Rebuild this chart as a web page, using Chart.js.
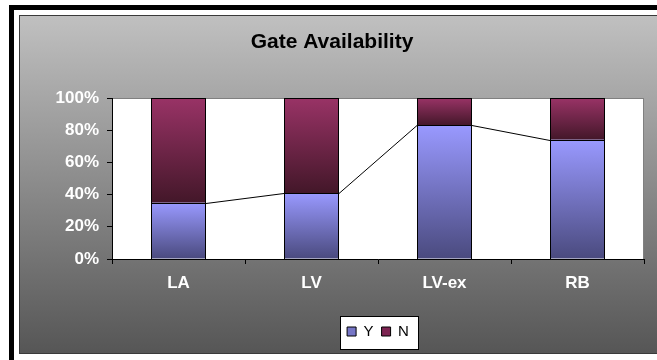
<!DOCTYPE html>
<html>
<head>
<meta charset="utf-8">
<script src="https://cdn.jsdelivr.net/npm/chart.js@4/dist/chart.umd.min.js"></script>
<style>
  html, body { margin: 0; padding: 0; background: #ffffff; overflow: hidden; width: 657px; height: 360px; }
  #frame { position: absolute; left: 9px; top: 5px; width: 700px; height: 400px; border: 5px solid #000; box-sizing: border-box; }
  #panel { position: absolute; left: 19px; top: 15px; width: 660px; height: 337px; border: 1px solid #3a3a3a;
           background: linear-gradient(to bottom, #c0c0c0 0%, #565656 100%); }
  #panel canvas { display: block; }
</style>
</head>
<body>
<div id="frame"></div>
<div id="panel"><canvas id="chart" width="637" height="337"></canvas></div>
<script>
// Gate availability share per terminal (percent of gates)
const categories = ['LA', 'LV', 'LV-ex', 'RB'];
const yesShare = [35, 41, 83, 74];
const noShare = [65, 59, 17, 26];
const tickValues = [0, 20, 40, 60, 80, 100];

const series = [
  { label: 'Y', data: yesShare, top: '#9999ff', bottom: '#4a4a7e', swatch: '#7676c6' },
  { label: 'N', data: noShare, top: '#993366', bottom: '#431729', swatch: '#7d2452' }
];

// Each stacked segment gets its own vertical gradient, from its top to its bottom edge
function segmentFill(c) {
  const s = series[c.datasetIndex];
  if (c.type !== 'data' || !c.chart.chartArea) return s.swatch;
  const yScale = c.chart.scales.y;
  let start = 0;
  for (let d = 0; d < c.datasetIndex; d++) start += series[d].data[c.dataIndex];
  const end = start + s.data[c.dataIndex];
  const y0 = yScale.getPixelForValue(end);
  const y1 = yScale.getPixelForValue(start);
  const g = c.chart.ctx.createLinearGradient(0, y0, 0, y1);
  g.addColorStop(0, s.top);
  g.addColorStop(1, s.bottom);
  return g;
}

// White plot area with grey frame, plus white boxed legend
const plotBackdrop = {
  id: 'plotBackdrop',
  afterLayout(chart) {
    const a = chart.chartArea, lg = chart.legend;
    lg.left = a.left; lg.right = a.right; lg.width = a.right - a.left;
  },
  beforeDraw(chart) {
    const { ctx, chartArea: a } = chart;
    ctx.save();
    ctx.fillStyle = '#ffffff';
    ctx.fillRect(a.left, a.top, a.right - a.left, a.bottom - a.top);
    ctx.strokeStyle = '#808080';
    ctx.lineWidth = 1;
    ctx.strokeRect(a.left + 0.5, a.top + 0.5, a.right - a.left - 1, a.bottom - a.top);
    const boxes = chart.legend.legendHitBoxes;
    if (boxes && boxes.length) {
      const l = Math.min(...boxes.map(b => b.left)) - 7;
      const r = Math.max(...boxes.map(b => b.left + b.width)) + 9;
      const cy = boxes[0].top + boxes[0].height / 2 + 1;
      ctx.fillStyle = '#ffffff';
      ctx.fillRect(Math.round(l) + 0.5, Math.round(cy - 16.5) + 0.5, Math.round(r - l), 33);
      ctx.strokeStyle = '#000000';
      ctx.strokeRect(Math.round(l) + 0.5, Math.round(cy - 16.5) + 0.5, Math.round(r - l), 33);
    }
    ctx.restore();
  }
};

// Crisp black outlines on every segment, and series lines joining the
// tops of the Y segments between neighbouring bars
const barOutlines = {
  id: 'barOutlines',
  afterDatasetsDraw(chart) {
    const ctx = chart.ctx;
    ctx.save();
    ctx.strokeStyle = '#000000';
    ctx.lineWidth = 1;
    chart.data.datasets.forEach((ds, di) => {
      chart.getDatasetMeta(di).data.forEach(el => {
        const l = Math.round(el.x - el.width / 2);
        const r = Math.round(el.x + el.width / 2) - 1;
        const t = Math.round(Math.min(el.y, el.base));
        const b = Math.round(Math.max(el.y, el.base));
        ctx.strokeRect(l + 0.5, t + 0.5, r - l, b - t);
      });
    });
    const bars = chart.getDatasetMeta(0).data;
    ctx.beginPath();
    for (let i = 0; i < bars.length - 1; i++) {
      const a = bars[i], b = bars[i + 1];
      ctx.moveTo(Math.round(a.x + a.width / 2), Math.round(a.y) + 0.5);
      ctx.lineTo(Math.round(b.x - b.width / 2), Math.round(b.y) + 0.5);
    }
    ctx.stroke();
    ctx.restore();
  }
};

new Chart(document.getElementById('chart'), {
  type: 'bar',
  data: {
    labels: categories,
    datasets: series.map(s => ({
      label: s.label,
      data: s.data,
      backgroundColor: segmentFill,
      borderColor: '#000000',
      borderWidth: 0,
      inflateAmount: 0,
      barThickness: 55
    }))
  },
  options: {
    responsive: false,
    animation: false,
    events: [],
    layout: { padding: { left: 0, right: 13, top: 0, bottom: 4 } },
    plugins: {
      title: {
        display: true,
        text: 'Gate Availability',
        color: '#000000',
        font: { family: 'Liberation Sans, Arial, sans-serif', size: 21, weight: 'bold' },
        padding: { top: 14, bottom: 42.8 }
      },
      legend: {
        position: 'bottom',
        labels: {
          color: '#000000',
          font: { family: 'Liberation Sans, Arial, sans-serif', size: 15 },
          boxWidth: 9,
          boxHeight: 9,
          padding: 8,
          generateLabels(chart) {
            return Chart.defaults.plugins.legend.labels.generateLabels(chart).map(item => {
              item.fillStyle = series[item.datasetIndex].swatch;
              item.strokeStyle = '#000000';
              item.lineWidth = 1;
              return item;
            });
          }
        }
      },
      tooltip: { enabled: false }
    },
    scales: {
      x: {
        stacked: true,
        grid: { offset: true, drawOnChartArea: false, drawTicks: true, tickLength: 5, color: '#000000' },
        border: { color: '#000000', width: 1 },
        ticks: {
          color: '#ffffff',
          padding: 9,
          font: { family: 'Liberation Sans, Arial, sans-serif', size: 17, weight: 'bold' }
        },
        afterFit(scale) { scale.height = 57; }
      },
      y: {
        stacked: true,
        min: 0,
        max: 100,
        afterBuildTicks(scale) { scale.ticks = tickValues.map(v => ({ value: v })); },
        grid: { drawOnChartArea: false, drawTicks: true, tickLength: 5, color: '#000000' },
        border: { color: '#000000', width: 1 },
        ticks: {
          color: '#ffffff',
          padding: 8,
          callback: v => v + '%',
          font: { family: 'Liberation Sans, Arial, sans-serif', size: 17, weight: 'bold' }
        },
        afterFit(scale) { scale.width = 92; }
      }
    }
  },
  plugins: [plotBackdrop, barOutlines]
});
</script>
</body>
</html>
